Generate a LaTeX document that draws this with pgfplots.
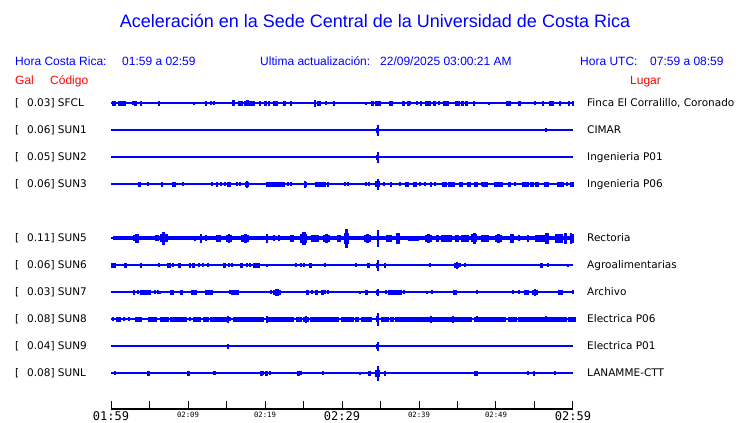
\documentclass[border=0pt]{standalone}
\usepackage{pgfplots}
\pgfplotsset{compat=1.18}
\usepackage{pgfplotstable}
\usepackage{fontspec}
\setmainfont{Liberation Sans}
\newfontfamily\dv{DejaVu Sans}
\newfontfamily\dvm{DejaVu Sans Mono}
\definecolor{sblue}{HTML}{0000FF}
\definecolor{sred}{HTML}{FF0000}

% events per station: x = minute after 01:59, w = width (px), a = half amplitude (px)
\pgfplotstableread{
x w a
0.17 1 2
0.43 1 2
1.08 2 1.7
1.39 1 2
1.60 1 2
1.82 1 2
2.77 1 1.5
3.16 2.3 1.7
3.90 1 2
6.15 1 2
10.69 1 1.2
12.29 1.7 1.7
12.99 1 1.5
13.29 1 1.5
15.89 1.7 2.5
16.80 4 1.7
17.32 1 2
17.71 1.7 2.5
18.27 5.3 1.7
19.31 1.7 1.7
20.04 2 1.7
20.52 1 2
21.34 4.3 1.7
22.51 2 1.7
23.29 1 2
26.49 1 3
27.01 2.7 1.7
27.92 1 1.5
28.87 1 2
33.12 1 1.2
33.98 2 1.7
34.68 4.7 2.3
36.15 1 2
36.45 1.3 2
37.97 2 1.7
38.61 1.3 1.7
38.83 1 1.5
39.70 1 1.5
40.26 1 2
41.13 5.3 1.7
41.99 2.3 1.7
42.51 1 1.5
43.16 1 2
43.64 2.7 1.7
44.94 4 2.3
45.58 2.3 1.7
46.19 2 1.7
47.14 1 2
49.09 1 1.2
51.39 1 2
51.69 1.7 1.7
52.99 1.7 1.7
55.06 1 1.5
56.02 1 2
56.93 1 2
57.36 2 1.7
58.27 1.3 1.7
59.39 1 2
59.95 1 2
}\sfcl
\pgfplotstableread{
x w a
34.59 1 5.3
34.59 2 2
56.45 1 1.5
}\sunone
\pgfplotstableread{
x w a
34.59 1 5.3
34.59 2.3 2.3
}\suntwo
\pgfplotstableread{
x w a
3.64 2 1.7
4.76 1 1.5
6.58 1.7 1.7
8.10 2.7 1.7
9.26 1 1.5
13.07 1 1.5
13.72 1.3 1.7
14.29 1 1.5
14.72 1 1.5
15.32 2.7 1.7
16.32 1 1.5
16.75 1 1.5
17.66 1 3
17.66 2.7 2
21.17 15.3 1.7
22.38 1.3 1.7
22.94 1 1.5
23.29 1 1.5
25.19 1 2.7
25.19 2 1.7
27.14 10 1.7
28.14 1.3 2.3
30.30 1 1.5
30.74 1 1.5
33.07 1 1.5
33.42 1 1.5
34.59 1 5.3
34.59 4 2.5
35.37 1 1.5
36.32 1.7 1.7
37.53 1 1.5
38.40 3.3 1.7
39.39 3 1.7
40.13 1 1.5
40.78 1 1.5
41.56 1.3 2.3
42.08 1 1.5
43.16 1.3 1.7
43.46 1.3 1.7
44.24 6 1.7
45.45 3.3 1.7
46.41 2.7 1.7
47.40 1.3 2.3
47.40 2.7 1.7
48.14 1 1.5
48.57 5 1.7
50.30 8 1.7
51.69 1.7 1.7
52.38 1 1.5
53.85 6 1.7
54.63 2.7 1.7
55.28 3.3 1.7
56.58 4 1.7
58.07 2 1.7
58.53 1.3 2.3
58.53 4 1.7
59.18 1 1.5
59.83 3 1.7
}\sunthree
\pgfplotstableread{
x w a
2.99 1 2.5
3.20 1 4
3.46 1 4
5.93 3.3 2.5
6.80 6.7 3.5
6.80 1.5 5.7
10.91 1 2.3
11.65 1.7 3.7
12.34 1 2.5
13.94 3.3 2.7
15.28 4.3 3.3
15.28 1.5 4.3
17.40 6.7 3.3
17.40 2 4.3
20.22 1 4
21.08 1 2.5
21.73 1 2.5
23.46 3.3 2.7
24.98 6.7 4
24.98 3 5.7
26.49 6.7 2.7
27.92 5.7 3
27.92 1.5 4
29.57 2.7 2.7
30.56 4 5
30.56 1.7 8.7
33.29 5.7 3
33.29 1.5 4
34.59 1 8.3
36.10 5 2.7
37.23 2.3 5
39.26 10 2.3
41.21 6.7 3
41.21 1.5 4
42.38 1.7 3
43.59 10 3.3
44.89 3.3 3
45.97 6.7 2.7
47.14 5 3.5
47.14 1.5 5.3
48.57 6.7 3.3
50.30 6.7 3
50.30 1.5 4.3
52.03 3.3 4.3
52.90 1 2.5
54.11 1.7 3.3
55.71 10 3
56.58 3.3 4.7
58.10 6.7 4.3
59.00 2.3 5.3
59.70 1.7 4.7
59.95 1 4
}\sunfive
\pgfplotstableread{
x w a
0.30 3.3 1.7
1.90 2 1.7
3.85 1.7 1.7
6.15 1 1.5
7.45 3.3 1.7
8.05 1 1.5
8.83 2 1.7
10.26 1 2.3
10.69 2.7 1.7
11.34 1 1.5
11.86 1 1.5
12.51 1 1.5
14.72 1.7 1.7
15.32 1 1.5
15.67 1 1.5
16.88 1.7 1.7
17.62 1 1.5
17.97 1 1.5
18.83 5.7 1.7
20.22 1 1.2
23.98 1 1.5
24.68 1 1.5
25.06 1 1.5
25.84 2 1.7
27.71 1 1.5
31.77 1 1.5
33.42 1.7 1.7
34.59 1 5.3
34.59 2 2
35.58 1 2
41.43 1 1.5
44.89 1 2.7
44.89 4 1.7
45.32 1 1.5
45.89 1 1.5
55.84 1.7 1.7
56.71 1 1.5
59.31 1 1.2
}\sunsix
\pgfplotstableread{
x w a
2.90 1 2.3
3.46 1 1.5
4.42 10 1.7
5.71 1 1.5
6.06 1 1.5
6.36 1 1.2
7.88 3 1.7
9.09 1.7 1.7
10.74 5.7 1.7
12.47 4 1.7
12.99 2 1.7
15.45 1 1.5
16.10 6.7 1.7
20.74 1 1.5
21.52 6.7 1.7
21.52 2.5 2.7
25.50 2 2.3
26.06 1 1.5
26.62 2 1.7
27.45 2 1.7
27.79 1 1.5
28.14 1 1.5
32.34 1 1.2
33.16 2.7 1.7
34.59 1 2.7
34.59 2 1.7
35.71 1 1.5
36.88 13 1.7
38.05 1 1.5
40.99 1 1.2
41.65 1 1.5
44.63 3.3 1.7
47.49 1 1.5
52.12 1 1.5
52.90 1 1.5
53.94 4 1.7
55.06 5 2
55.06 1.3 3
58.35 3.3 1.7
60.00 1 1.5
}\sunseven
\pgfplotstableread{
x w a
0.17 1 1.5
0.95 3.3 1.7
1.60 1 1.5
2.25 1 1.5
3.51 6 1.7
5.37 8.3 1.7
6.88 8.3 1.7
8.74 16.7 1.7
10.26 1 1.5
11.13 6.7 1.7
12.29 5 1.7
13.94 16.7 1.7
15.15 1 3
15.45 1 1.5
17.84 30 1.7
20.22 1 3
21.95 26.7 1.7
24.42 5 1.7
25.28 5 1.7
25.28 1 2.7
27.66 28.3 1.7
30.69 11.7 1.7
31.90 3.3 1.7
33.20 10 1.7
34.59 1 5.7
34.59 2 2.5
35.58 6.7 1.7
36.45 3.3 1.7
38.48 25 1.7
40.87 8.3 1.7
41.56 1 2.7
42.94 20 1.7
44.37 1 2.7
45.63 18.3 1.7
47.49 4.7 1.7
47.49 1 2.5
49.52 25 1.7
52.12 8.3 1.7
54.63 26.7 1.7
56.45 1 2.5
57.88 20 1.7
59.83 6.7 1.7
}\suneight
\pgfplotstableread{
x w a
15.15 1.3 2
34.59 1 3.7
34.59 2.7 2.3
}\sunnine
\pgfplotstableread{
x w a
0.43 1 1.5
4.85 1.7 1.7
10.04 2 1.7
13.29 1 1.5
13.51 1 1.5
19.48 1.7 1.7
19.65 1 1.5
20.22 2 1.7
20.65 1 1.5
24.33 1.7 2
24.68 1 1.5
27.45 1 1.5
32.34 1 1.2
33.55 2 1.7
34.59 1 7
34.59 3.3 2.7
35.50 1 2
47.40 3.3 1.7
54.11 1 1.5
54.85 1 2
57.66 1 1.5
}\sunl

\pgfplotsset{
  trace/.style={sblue, scatter, only marks, mark=square*, mark size=0.5bp,
    point meta=\thisrow{a},
    scatter/use mapped color={draw=none, fill=sblue},
    mark options={draw=none, fill=sblue},
    visualization depends on={\thisrow{w} \as \ww},
    visualization depends on={2*\thisrow{a} \as \hh},
    scatter/@pre marker code/.append style={/tikz/xscale=\ww, /tikz/yscale=\hh, /tikz/draw=none, /tikz/fill=sblue}},
  base/.style={sblue, line width=1.4bp, mark=none},
}
\newcommand{\bigt}{\dvm\fontsize{12bp}{12bp}\selectfont}
\newcommand{\smt}{\dvm\fontsize{7.3bp}{7.3bp}\selectfont}

\begin{document}
\begin{tikzpicture}
\useasboundingbox (0,0) rectangle (740bp,423bp);
\begin{axis}[
  at={(111bp,14bp)}, anchor=south west,
  width=462bp, height=320bp, scale only axis,
  xmin=0, xmax=60, ymin=0, ymax=320,
  axis x line*=bottom, axis y line=none,
  xtick={0,5,...,60},
  xticklabels={{\bigt 01:59},,{\raisebox{2.5bp}{\smt 02:09}},,{\raisebox{2.5bp}{\smt 02:19}},,{\bigt 02:29},,{\raisebox{2.5bp}{\smt 02:39}},,{\raisebox{2.5bp}{\smt 02:49}},,{\bigt 02:59}},
  xticklabel style={anchor=base, inner sep=0pt, yshift=-11bp},
  xtick align=inside, major tick length=8bp,
  x axis line style={line width=1.2bp, black},
  xtick style={line width=1bp, black},
  ytick=\empty,
  clip=false,
]
\addplot[base] coordinates {(0,306) (60,306)};
\addplot[trace] table[x=x, y expr=306] {\sfcl};
\addplot[base] coordinates {(0,279) (60,279)};
\addplot[trace] table[x=x, y expr=279] {\sunone};
\addplot[base] coordinates {(0,252) (60,252)};
\addplot[trace] table[x=x, y expr=252] {\suntwo};
\addplot[base] coordinates {(0,225) (60,225)};
\addplot[trace] table[x=x, y expr=225] {\sunthree};
\addplot[base] coordinates {(0,171) (60,171)};
\addplot[sblue, line width=3.4bp, mark=none] coordinates {(0.2,171) (60,171)};
\addplot[trace] table[x=x, y expr=171] {\sunfive};
\addplot[base] coordinates {(0,144) (60,144)};
\addplot[trace] table[x=x, y expr=144] {\sunsix};
\addplot[base] coordinates {(0,117) (60,117)};
\addplot[trace] table[x=x, y expr=117] {\sunseven};
\addplot[base] coordinates {(0,90) (60,90)};
\addplot[trace] table[x=x, y expr=90] {\suneight};
\addplot[base] coordinates {(0,63) (60,63)};
\addplot[trace] table[x=x, y expr=63] {\sunnine};
\addplot[base] coordinates {(0,36) (60,36)};
\addplot[trace] table[x=x, y expr=36] {\sunl};
\end{axis}
\begin{scope}[x=1bp, y=1bp, inner sep=0pt]
  \node[anchor=base, text=sblue, font=\fontsize{18bp}{20bp}\selectfont] at (375,395) {Aceleración en la Sede Central de la Universidad de Costa Rica};
  \begin{scope}[text=sblue, font=\fontsize{12bp}{14bp}\selectfont]
    \node[anchor=base west] at (15,358) {Hora Costa Rica:};
    \node[anchor=base west] at (122,358) {01:59 a 02:59};
    \node[anchor=base west] at (260,358) {Ultima actualización:};
    \node[anchor=base west] at (380,358) {22/09/2025 03:00:21 AM};
    \node[anchor=base west] at (580,358) {Hora UTC:};
    \node[anchor=base west] at (650,358) {07:59 a 08:59};
  \end{scope}
  \begin{scope}[text=sred, font=\fontsize{12bp}{14bp}\selectfont]
    \node[anchor=base west] at (15,339) {Gal};
    \node[anchor=base west] at (50,339) {Código};
    \node[anchor=base west] at (630,339) {Lugar};
  \end{scope}
  \begin{scope}[font=\dv\fontsize{10.5bp}{12bp}\selectfont]
    \foreach \yy/\gal/\cod/\lug in {316.3/0.03/SFCL/{Finca El Corralillo, Coronado}, 289.3/0.06/SUN1/CIMAR, 262.3/0.05/SUN2/Ingenieria P01, 235.3/0.06/SUN3/Ingenieria P06, 181.3/0.11/SUN5/Rectoria, 154.3/0.06/SUN6/Agroalimentarias, 127.3/0.03/SUN7/Archivo, 100.3/0.08/SUN8/Electrica P06, 73.3/0.04/SUN9/Electrica P01, 46.3/0.08/SUNL/LANAMME-CTT} {
      \node[anchor=base west] at (15,\yy) {[};
      \node[anchor=base west] at (27,\yy) {\gal] \cod};
      \node[anchor=base west] at (587,\yy) {\lug};
    }
  \end{scope}
\end{scope}
\end{tikzpicture}
\end{document}
